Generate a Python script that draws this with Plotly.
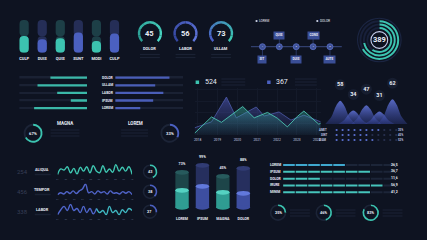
import plotly.graph_objects as go

W, H = 427, 240
BG = "#0e1321"
TEAL = "#3cc3b0"
TEAL_D = "#1d3f47"
BLUE = "#4b60c0"
BLUE_D = "#252e57"
DIM = "#1a2133"
WHITE = "#e8ecf6"
FONT = "Roboto"

# ---------------- data ----------------
capsule_labels = ["CULP", "DUIS", "QUIS", "SUNT", "MODI", "CULP"]
capsule_values = [51, 41, 44, 62, 36, 59]

gauge_labels = ["DOLOR", "LABOR", "ULLAM"]
gauge_values = [45, 56, 73]

timeline_labels = ["SIT", "QUIS", "DUIS", "CONS", "AUTE"]
timeline_above = [False, True, False, True, False]
timeline_legend = ["LOREM", "DOLOR"]

ring_total = 389
ring_values = [67, 72, 60]

hbar_labels = ["DOLOR", "ULLAM", "LABOR", "IPSUM", "LOREM"]
hbar_left = [54, 73, 44, 24, 78]
hbar_right = [80, 59, 71, 56, 37]

donut_mid_labels = ["MAGNA", "LOREM"]
donut_mid_values = [67, 33]

area_years = [2018, 2019, 2020, 2021, 2022, 2023, 2024]
area_totals = [524, 367]
teal_x = [2017.85, 2018.7, 2019.2, 2020.27, 2020.85, 2021.52, 2022.02, 2022.52, 2023.02, 2023.35, 2024.1, 2024.2]
teal_y = [4, 40, 28, 63, 38, 50, 37, 18, 41, 53, 24, 26]
blue_x = [2017.85, 2018.7, 2019.45, 2019.95, 2020.95, 2021.35, 2022.1, 2022.7, 2023.35, 2024.2]
blue_y = [16, 29, 84, 38, 62, 42, 51, 33, 44, 29]

mountain_values = [58, 34, 47, 31, 62]
mtable_labels = ["AMET", "SINT", "DIAM"]
mtable_counts = [8, 6, 7]
mtable_values = ["35%", "45%", "53%"]

wave_totals = [254, 456, 338]
wave_names = ["ALIQUA", "TEMPOR", "LABOR"]
wave_pct = [43, 38, 27]
wave_aliqua = [2, 12, 10, 16, 5, 13, 3, 15, 8, 16, 5, 18, 8, 5, 18, 6, 12, 6, 20, 8, 15, 8, 16, 2]
wave_tempor = [5, 10, 7, 13, 8, 15, 8, 15, 20, 32, 10, 13, 7, 15, 10, 13, 7, 15, 9, 10, 7, 13, 9, 13, 5]
wave_labor = [5, 17, 25, 15, 30, 15, 20, 10, 25, 10, 20, 7, 20, 10, 15, 5, 25, 10, 15, 5, 17, 10, 20, 15]
wave_ticks = ["01", "02", "03", "04", "05", "06", "07", "08", "09", "10"]

cyl_labels = ["LOREM", "IPSUM", "MAGNA", "DOLOR"]
cyl_pct = ["73%", "99%", "45%", "88%"]
cyl_height = [35, 42, 31, 39]
cyl_fill = [17, 21, 15, 14]

dash_labels = ["LOREM", "IPSUM", "DOLOR", "IRURE", "MINIM"]
dash_counts = [5, 7, 3, 8, 7]
dash_values = ["26,5", "36,7", "11,6", "56,9", "41,2"]

bottom_pct = [25, 46, 83]

# ---------------- helpers ----------------
def dx(a, b):
    return [a / W, b / W]

def dy(top, bot):
    return [1 - bot / H, 1 - top / H]

def hexmix(c1, c2, t):
    a = [int(c1[i:i + 2], 16) for i in (1, 3, 5)]
    b = [int(c2[i:i + 2], 16) for i in (1, 3, 5)]
    return "#" + "".join("%02x" % round(a[k] + (b[k] - a[k]) * t) for k in range(3))

fig = go.Figure()
annotations = []
shapes = []

def txt(x, y, s, size, color=WHITE, bold=False, xanchor="center", xref="paper", yref="paper"):
    if xref == "paper":
        x = x / W
    if yref == "paper":
        y = 1 - y / H
    annotations.append(dict(x=x, y=y, xref=xref, yref=yref, text=s, showarrow=False,
                            xanchor=xanchor, yanchor="middle",
                            font=dict(size=size, color=color, family=FONT,
                                      weight="bold" if bold else "normal")))

def faint(x0, x1, y, w=1.2, color="#1a2133"):
    shapes.append(dict(type="line", xref="paper", yref="paper", x0=x0 / W, x1=x1 / W,
                       y0=1 - y / H, y1=1 - y / H, line=dict(color=color, width=w)))

def ring(cx, cy, r, values, colors, hole, direction="clockwise", rotation=0):
    fig.add_trace(go.Pie(values=values, marker=dict(colors=colors, line=dict(width=0)), hole=hole,
                         domain=dict(x=[(cx - r) / W, (cx + r) / W], y=[1 - (cy + r) / H, 1 - (cy - r) / H]),
                         sort=False, direction=direction, rotation=rotation, textinfo="none",
                         hoverinfo="skip", showlegend=False))

def axis(domain, rng, anchor, **kw):
    d = dict(domain=domain, range=rng, anchor=anchor, showgrid=False, zeroline=False,
             showticklabels=False, ticks="", showline=False, fixedrange=True)
    d.update(kw)
    return d

layout_axes = {}

# ---------------- 1. capsule bars ----------------
cx_idx = list(range(len(capsule_values)))
trk = [TEAL_D if i % 2 == 0 else BLUE_D for i in cx_idx]
fil = [TEAL if i % 2 == 0 else BLUE for i in cx_idx]
for yv, base, cols in [([50] * 6, [50] * 6, trk), ([-50] * 6, [50] * 6, trk),
                       ([-v for v in capsule_values], capsule_values, fil)]:
    fig.add_trace(go.Bar(x=cx_idx, y=yv, base=base, width=0.51,
                         marker=dict(color=cols, cornerradius=5, line=dict(width=0)),
                         xaxis="x", yaxis="y", hoverinfo="skip"))
layout_axes["xaxis"] = axis(dx(14.2, 123.4), [-0.5, 5.5], "y", showticklabels=True,
                            tickvals=cx_idx, ticktext=capsule_labels, ticklabelstandoff=2,
                            tickfont=dict(size=4, color=WHITE, family=FONT, weight="bold"))
layout_axes["yaxis"] = axis(dy(20, 52.7), [0, 100], "x")

# ---------------- 2. gauges ----------------
g_cols = [("#2a9d93", "#4bd8c5"), ("#3446a0", "#6076dc"), ("#4a5fc6", "#3cc8b2")]
for k, (lab, val) in enumerate(zip(gauge_labels, gauge_values)):
    gx = 150 + 35.8 * k
    c1, c2 = g_cols[k]
    n = 8
    cols = [hexmix(c1, c2, i / (n - 1)) for i in range(n)] + ["rgba(0,0,0,0)"]
    ring(gx, 33.3, 12.3, [270 / n] * n + [90], cols, 0.8, rotation=225)
    txt(gx, 33.3, str(val), 7.5, bold=True)
    txt(gx, 49, lab, 4, bold=True)
    faint(gx - 10, gx + 10, 54.5)
    faint(gx - 10, gx + 10, 57.5)

# ---------------- 3. timeline ----------------
tl_idx = list(range(1, len(timeline_labels) + 1))
fig.add_trace(go.Scatter(x=[0.32, 5.7], y=[0, 0], mode="lines", line=dict(color="#3a4a80", width=1),
                         xaxis="x2", yaxis="y2", hoverinfo="skip"))
for i, lab, up in zip(tl_idx, timeline_labels, timeline_above):
    yy = 11.7 if up else -12.6
    fig.add_trace(go.Scatter(x=[i, i], y=[0, yy], mode="lines", line=dict(color="#34447a", width=0.7),
                             xaxis="x2", yaxis="y2", hoverinfo="skip"))
    annotations.append(dict(x=i, y=yy, xref="x2", yref="y2", text=lab, showarrow=False,
                            bgcolor="#3a4e96", borderpad=1.4,
                            font=dict(size=3.2, color=WHITE, family=FONT, weight="bold")))
fig.add_trace(go.Scatter(x=tl_idx, y=[0] * 5, mode="markers+text", text=[str(i) for i in tl_idx],
                         textfont=dict(size=2.5, color=WHITE), textposition="middle center",
                         marker=dict(size=6, color="#3f5299", line=dict(width=0.8, color="#5a70c4")),
                         xaxis="x2", yaxis="y2", hoverinfo="skip"))
fig.add_trace(go.Scatter(x=[0.65, 4.25], y=[25.7, 25.7], mode="markers",
                         marker=dict(size=2.2, color=["#cfd6ea", "#cfd6ea"]),
                         xaxis="x2", yaxis="y2", hoverinfo="skip"))
txt(265.5, 21, timeline_legend[0], 3.2)
txt(326.5, 21, timeline_legend[1], 3.2)
layout_axes["xaxis2"] = axis(dx(246.3, 348.3), [0, 6], "y2")
layout_axes["yaxis2"] = axis(dy(15, 65), [-18.3, 31.7], "x2")

# ---------------- 4. concentric rings ----------------
RCX, RCY = 381, 40
ring(RCX, RCY, 22.5, [1], ["#1b2542"], 0.95)
ring(RCX, RCY, 20, [ring_values[0], 100 - ring_values[0]], [TEAL, "#18203a"], 0.9, direction="counterclockwise")
ring(RCX, RCY, 16.5, [ring_values[1], 100 - ring_values[1]], [TEAL, "#18203a"], 0.88, direction="counterclockwise")
ring(RCX, RCY, 13, [ring_values[2], 100 - ring_values[2]], [TEAL, "#18203a"], 0.85, direction="counterclockwise")
ring(RCX, RCY, 9, [1], ["#c8d0ee"], 0.88)
txt(RCX, RCY, str(ring_total), 7.5, bold=True)

# ---------------- 5. horizontal bars ----------------
hb_idx = list(range(len(hbar_labels)))
fig.add_trace(go.Bar(y=hb_idx, x=[100] * 5, orientation="h", width=0.22, marker=dict(color=DIM, line=dict(width=0)),
                     xaxis="x3", yaxis="y3", hoverinfo="skip"))
fig.add_trace(go.Bar(y=hb_idx, x=hbar_left, orientation="h", width=0.3, marker=dict(color="#3bb8a8", line=dict(width=0)),
                     xaxis="x3", yaxis="y3", hoverinfo="skip"))
fig.add_trace(go.Bar(y=hb_idx, x=[100] * 5, orientation="h", width=0.22, marker=dict(color=DIM, line=dict(width=0)),
                     xaxis="x4", yaxis="y3", hoverinfo="skip"))
fig.add_trace(go.Bar(y=hb_idx, x=hbar_right, orientation="h", width=0.3, marker=dict(color="#4a5eb8", line=dict(width=0)),
                     xaxis="x4", yaxis="y3", hoverinfo="skip"))
for i, lab in zip(hb_idx, hbar_labels):
    annotations.append(dict(x=100 / W, y=i, xref="paper", yref="y3", text=lab, showarrow=False,
                            font=dict(size=3.4, color=WHITE, family=FONT, weight="bold")))
layout_axes["xaxis3"] = axis(dx(18.3, 86.7), [100, 0], "y3")
layout_axes["xaxis4"] = axis(dx(115, 183.3), [0, 100], "y3")
layout_axes["yaxis3"] = axis(dy(73.9, 111.9), [4.5, -0.5], "x3")

# ---------------- 6. middle donuts ----------------
ring(32.3, 133.3, 9.5, [donut_mid_values[0], 100 - donut_mid_values[0]], [TEAL, "#1c2437"], 0.8,
     direction="counterclockwise")
txt(32.3, 133.3, "%d%%" % donut_mid_values[0], 4.2, bold=True)
ring(170, 133.3, 9.5, [donut_mid_values[1], 100 - donut_mid_values[1]], [BLUE, "#1c2437"], 0.8)
txt(170, 133.3, "%d%%" % donut_mid_values[1], 4.2, bold=True)
txt(65, 123.3, donut_mid_labels[0], 4.5, bold=True)
txt(135, 123.3, donut_mid_labels[1], 4.5, bold=True)
for yy in (130, 133, 136):
    faint(50, 79, yy)
    faint(121, 148, yy)

# ---------------- 7. area chart ----------------
fig.add_trace(go.Scatter(x=blue_x, y=blue_y, mode="lines", line=dict(color="#4c5aa8", width=0.8),
                         fill="tozeroy",
                         fillgradient=dict(type="vertical", colorscale=[[0, "rgba(60,70,150,0.05)"], [1, "rgba(80,90,190,0.6)"]]),
                         xaxis="x5", yaxis="y5", hoverinfo="skip"))
fig.add_trace(go.Scatter(x=teal_x, y=teal_y, mode="lines", line=dict(color="#4cc2b0", width=0.9),
                         fill="tozeroy",
                         fillgradient=dict(type="vertical", colorscale=[[0, "rgba(50,150,140,0.05)"], [1, "rgba(60,190,170,0.45)"]]),
                         xaxis="x5", yaxis="y5", hoverinfo="skip"))
layout_axes["xaxis5"] = axis(dx(195, 322), [2017.85, 2024.2], "y5", showticklabels=True,
                             tickvals=area_years, ticktext=[str(y) for y in area_years],
                             ticklabelstandoff=2, showgrid=True, gridcolor="#141a2a", gridwidth=0.6,
                             tickfont=dict(size=3.3, color="#c9d1e6", family=FONT))
layout_axes["yaxis5"] = axis(dy(88, 135), [0, 104], "x5", showgrid=True, gridcolor="#141a2a",
                             gridwidth=0.6, dtick=25)
shapes.append(dict(type="rect", xref="paper", yref="paper", x0=196 / W, x1=199.5 / W,
                   y0=1 - 84 / H, y1=1 - 80.5 / H, fillcolor=TEAL, line=dict(width=0)))
shapes.append(dict(type="rect", xref="paper", yref="paper", x0=268 / W, x1=271.5 / W,
                   y0=1 - 84 / H, y1=1 - 80.5 / H, fillcolor=BLUE, line=dict(width=0)))
txt(203, 82.2, str(area_totals[0]), 7, xanchor="left")
txt(275, 82.2, str(area_totals[1]), 7, xanchor="left")
for yy in (79, 82, 85):
    faint(222, 246, yy)
    faint(296, 318, yy)

# ---------------- 8. mountains ----------------
m_idx = list(range(len(mountain_values)))
prof_x = [-1, -0.6, -0.28, 0, 0.28, 0.6, 1]
prof_y = [0, 0.3, 0.78, 1, 0.78, 0.3, 0]
for i, v in zip(m_idx, mountain_values):
    fig.add_trace(go.Scatter(x=[i + 1.15 * p for p in prof_x], y=[v * p for p in prof_y], mode="lines",
                             line=dict(width=0, shape="spline", smoothing=0.8), fill="toself",
                             fillgradient=dict(type="vertical", colorscale=[[0, "rgba(55,70,160,0.35)"], [1, "rgba(100,120,225,0.85)"]]),
                             xaxis="x6", yaxis="y6", hoverinfo="skip"))
fig.add_trace(go.Scatter(x=m_idx, y=[v + 40 for v in mountain_values], mode="markers+text",
                         text=[str(v) for v in mountain_values], textposition="middle center",
                         textfont=dict(size=5.5, color=WHITE, family=FONT, weight="bold"),
                         marker=dict(size=11, color="#171e30"), xaxis="x6", yaxis="y6", hoverinfo="skip"))
layout_axes["xaxis6"] = axis(dx(326, 412), [-1.19, 5.35], "y6")
layout_axes["yaxis6"] = axis(dy(70, 124), [0, 135], "x6")

# mountain table
for r, (lab, cnt, val) in enumerate(zip(mtable_labels, mtable_counts, mtable_values)):
    cols = ["#5b70d0" if c < cnt else "#283150" for c in range(11)]
    fig.add_trace(go.Scatter(x=list(range(11)), y=[r] * 11, mode="markers",
                             marker=dict(size=2.2, color=cols), xaxis="x7", yaxis="y7", hoverinfo="skip"))
    annotations.append(dict(x=330 / W, y=r, xref="paper", yref="y7", text=lab, showarrow=False,
                            font=dict(size=2.8, color="#c0c8e0", family=FONT, weight="bold")))
    annotations.append(dict(x=407 / W, y=r, xref="paper", yref="y7", text=val, showarrow=False,
                            font=dict(size=2.8, color="#c0c8e0", family=FONT, weight="bold")))
layout_axes["xaxis7"] = axis(dx(335, 401), [-0.5, 10.5], "y7")
layout_axes["yaxis7"] = axis(dy(127.5, 142.5), [2.5, -0.5], "x7")

# ---------------- 9. waves ----------------
waves = [wave_aliqua, wave_tempor, wave_labor]
row_y = [170.5, 190.5, 210.5]
for k, wv in enumerate(waves):
    xa, ya = "x%d" % (8 + k), "y%d" % (8 + k)
    n = len(wv)
    xs = list(range(n))
    if k == 0:
        fig.add_trace(go.Scatter(x=xs, y=wv, mode="lines", line=dict(color="#3fc7b2", width=1.4, shape="spline", smoothing=1.2),
                                 xaxis=xa, yaxis=ya, hoverinfo="skip"))
    elif k == 1:
        fig.add_trace(go.Scatter(x=xs, y=wv, mode="lines", line=dict(color="#5064c8", width=1.4, shape="spline", smoothing=1.2),
                                 xaxis=xa, yaxis=ya, hoverinfo="skip"))
    else:
        h = n // 2
        fig.add_trace(go.Scatter(x=xs[:h + 1], y=wv[:h + 1], mode="lines", line=dict(color="#4f66cc", width=1.4, shape="spline", smoothing=1.2),
                                 xaxis=xa, yaxis=ya, hoverinfo="skip"))
        fig.add_trace(go.Scatter(x=xs[h:], y=wv[h:], mode="lines", line=dict(color="#3fb6c0", width=1.4, shape="spline", smoothing=1.2),
                                 xaxis=xa, yaxis=ya, hoverinfo="skip"))
    cy = row_y[k]
    layout_axes["xaxis%d" % (8 + k)] = axis(dx(57, 132), [0, n - 1], ya, showticklabels=True,
                                           tickvals=[j * (n - 1) / 9 for j in range(10)], ticktext=wave_ticks,
                                           ticklabelstandoff=1, tickfont=dict(size=2.2, color="#566080", family=FONT))
    layout_axes["yaxis%d" % (8 + k)] = axis(dy(cy - 7, cy + 5), [min(wv) - 2, max(wv) + 2], xa)
    txt(22, cy + 1, str(wave_totals[k]), 6, color="#363e56")
    txt(41.5, cy - 1.5, wave_names[k], 3.8, bold=True)
    faint(34, 50, cy + 4, w=1.5)
    pc = wave_pct[k]
    ring(150, cy + 1.2, 7.3, [pc, 100 - pc], [TEAL if k == 0 else BLUE, "#1c2437"], 0.78)
    txt(150, cy + 1.2, str(pc), 3.8, bold=True)

# ---------------- 10. cylinders ----------------
cy_idx = list(range(len(cyl_labels)))
teal_like = [True, False, True, False]
body = ["#1d4549" if t else "#262f5e" for t in teal_like]
topc = ["#275a5d" if t else "#313c74" for t in teal_like]
fillc = ["#2f9c92" if t else "#3d4ea0" for t in teal_like]
filltop = ["#55d2c2" if t else "#6279dc" for t in teal_like]
fig.add_trace(go.Bar(x=cy_idx, y=cyl_height, width=0.65, marker=dict(color=body, line=dict(width=0)),
                     xaxis="x11", yaxis="y11", hoverinfo="skip"))
fig.add_trace(go.Bar(x=cy_idx, y=cyl_fill, width=0.65, marker=dict(color=fillc, line=dict(width=0)),
                     xaxis="x11", yaxis="y11", hoverinfo="skip"))
for i in cy_idx:
    for yy, col in [(0, fillc[i]), (cyl_height[i], topc[i]), (cyl_fill[i], filltop[i])]:
        shapes.append(dict(type="circle", xref="x11", yref="y11", x0=i - 0.325, x1=i + 0.325,
                           y0=yy - 2.4, y1=yy + 2.4, fillcolor=col, line=dict(width=0)))
fig.add_trace(go.Scatter(x=cy_idx, y=[h + 8 for h in cyl_height], mode="text", text=cyl_pct,
                         textfont=dict(size=3.6, color=WHITE, family=FONT, weight="bold"),
                         xaxis="x11", yaxis="y11", hoverinfo="skip"))
layout_axes["xaxis11"] = axis(dx(172, 254.3), [-0.5, 3.5], "y11", showticklabels=True,
                              tickvals=cy_idx, ticktext=cyl_labels, ticklabelstandoff=3,
                              tickfont=dict(size=3.6, color=WHITE, family=FONT, weight="bold"))
layout_axes["yaxis11"] = axis(dy(150, 212), [-4.7, 57.3], "x11")

# ---------------- 11. dash table ----------------
for r, (lab, cnt, val) in enumerate(zip(dash_labels, dash_counts, dash_values)):
    bright = "#3fa8cf" if r == 0 else "#46c4bb"
    cols = [bright if c < cnt else "#1c2538" for c in range(9)]
    fig.add_trace(go.Scatter(x=list(range(9)), y=[r] * 9, mode="markers",
                             marker=dict(symbol="line-ew", size=8.3, line=dict(width=2, color=cols)),
                             xaxis="x12", yaxis="y12", hoverinfo="skip"))
    annotations.append(dict(x=269 / W, y=r, xref="paper", yref="y12", text=lab, showarrow=False, xanchor="left",
                            font=dict(size=3.4, color=WHITE, family=FONT, weight="bold")))
    annotations.append(dict(x=401.7 / W, y=r, xref="paper", yref="y12", text=val, showarrow=False,
                            font=dict(size=3.4, color=WHITE, family=FONT, weight="bold")))
layout_axes["xaxis12"] = axis(dx(283.7, 397.3), [-0.5, 8.5], "y12")
layout_axes["yaxis12"] = axis(dy(161.6, 195.7), [4.5, -0.5], "x12")

# ---------------- 12. bottom donuts ----------------
for cxp, pc in zip([279, 325, 372.3], bottom_pct):
    ring(cxp, 212.7, 8.3, [pc, 100 - pc], [TEAL, "#1c2437"], 0.8)
    txt(cxp, 212.7, "%d%%" % pc, 3.8, bold=True)
    for yy in (210, 213, 216):
        faint(cxp + 12, cxp + 32, yy)

fig.update_layout(
    width=W, height=H, margin=dict(l=0, r=0, t=0, b=0),
    paper_bgcolor=BG, plot_bgcolor="rgba(0,0,0,0)",
    showlegend=False, barmode="overlay",
    annotations=annotations, shapes=shapes,
    font=dict(family=FONT, color=WHITE),
    **layout_axes,
)
fig.write_html("out.html")
